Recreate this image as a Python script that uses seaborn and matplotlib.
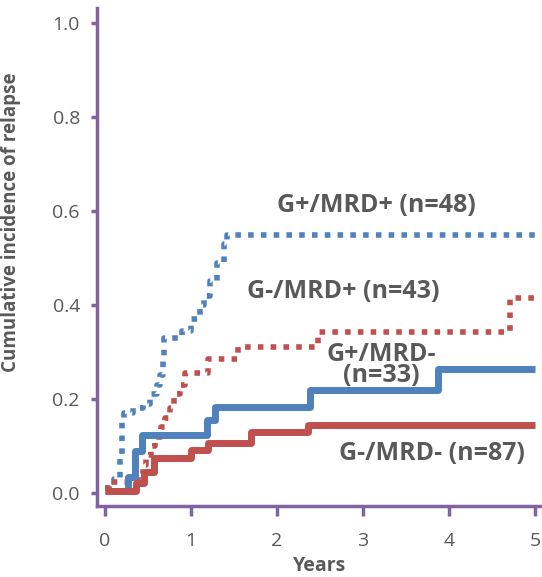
import matplotlib
matplotlib.use("Agg")
import matplotlib.pyplot as plt
import seaborn as sns
import pandas as pd

# Cumulative incidence step curves (years, incidence)
gpos_mrdpos_t = [0.0, 0.10, 0.17, 0.20, 0.22, 0.33, 0.44, 0.52, 0.60, 0.64, 0.67, 0.69,
                 0.90, 1.00, 1.10, 1.15, 1.22, 1.30, 1.38, 1.42, 5.0]
gpos_mrdpos_y = [0.01, 0.03, 0.08, 0.15, 0.17, 0.18, 0.19, 0.21, 0.23, 0.25, 0.28, 0.33,
                 0.345, 0.37, 0.40, 0.42, 0.45, 0.49, 0.53, 0.55, 0.55]

gneg_mrdpos_t = [0.0, 0.05, 0.38, 0.44, 0.48, 0.53, 0.58, 0.65, 0.70, 0.75, 0.80, 0.87,
                 0.93, 1.20, 1.55, 2.48, 4.71, 5.0]
gneg_mrdpos_y = [0.01, 0.023, 0.04, 0.06, 0.08, 0.10, 0.12, 0.14, 0.16, 0.18, 0.21, 0.23,
                 0.255, 0.285, 0.31, 0.342, 0.415, 0.415]

gpos_mrdneg_t = [0.0, 0.27, 0.35, 0.43, 1.19, 1.28, 2.38, 3.87, 5.0]
gpos_mrdneg_y = [0.005, 0.034, 0.09, 0.123, 0.155, 0.183, 0.22, 0.264, 0.264]

gneg_mrdneg_t = [0.0, 0.36, 0.45, 0.57, 1.00, 1.20, 1.70, 2.36, 5.0]
gneg_mrdneg_y = [0.005, 0.02, 0.045, 0.074, 0.091, 0.106, 0.13, 0.145, 0.145]

group_labels = ["G+/MRD+ (n=48)", "G-/MRD+ (n=43)", "G+/MRD-\n(n=33)", "G-/MRD- (n=87)"]
label_pos = [(3.15, 0.611), (2.77, 0.428), (3.21, 0.272), (3.80, 0.083)]

x_ticks = [0, 1, 2, 3, 4, 5]
y_ticks = [0.0, 0.2, 0.4, 0.6, 0.8, 1.0]

BLUE = "#4F81BD"
RED = "#C0504D"
PURPLE = "#8064A2"
TEXT = "#595959"

sns.set_style("white")
plt.rcParams["font.family"] = ["Open Sans", "DejaVu Sans"]

fig = plt.figure(figsize=(5.42, 5.77), dpi=100)
ax = fig.add_axes([0.179, 0.123, 0.821, 0.863])

series = [
    (gpos_mrdpos_t, gpos_mrdpos_y, BLUE, "dotted"),
    (gneg_mrdpos_t, gneg_mrdpos_y, RED, "dotted"),
    (gpos_mrdneg_t, gpos_mrdneg_y, BLUE, "solid"),
    (gneg_mrdneg_t, gneg_mrdneg_y, RED, "solid"),
]
for t, y, color, kind in series:
    df = pd.DataFrame({"t": t, "y": y})
    if kind == "dotted":
        sns.lineplot(data=df, x="t", y="y", ax=ax, color=color, linewidth=4.0,
                     drawstyle="steps-post", estimator=None, sort=False)
        ax.lines[-1].set_dashes((1.0, 1.3))
        ax.lines[-1].set_dash_capstyle("butt")
    else:
        sns.lineplot(data=df, x="t", y="y", ax=ax, color=color, linewidth=5.0,
                     drawstyle="steps-post", estimator=None, sort=False)
        ax.lines[-1].set_solid_capstyle("butt")

for text, (px, py) in zip(group_labels, label_pos):
    ax.text(px, py, text, ha="center", va="center", fontsize=18,
            fontweight="bold", color=TEXT, linespacing=0.78)

ax.set_xlim(-0.093, 5.08)
ax.set_ylim(-0.028, 1.032)
ax.set_xticks(x_ticks)
ax.set_xticklabels([str(v) for v in x_ticks])
ax.set_yticks(y_ticks)
ax.set_yticklabels([f"{v:.1f}" for v in y_ticks])

for side in ("top", "right"):
    ax.spines[side].set_visible(False)
for side in ("left", "bottom"):
    ax.spines[side].set_color(PURPLE)
    ax.spines[side].set_linewidth(2.5)

ax.tick_params(axis="y", direction="out", length=4.3, width=2.5, color=PURPLE,
               labelsize=14, labelcolor=TEXT, pad=8, left=True)
ax.tick_params(axis="x", direction="out", length=7, width=2.5, color=PURPLE,
               labelsize=14, labelcolor=TEXT, pad=12, bottom=True)

ax.set_xlabel("Years", fontsize=14, fontweight="bold", color=TEXT, labelpad=4)
ax.set_ylabel("Cumulative incidence of relapse", fontsize=13.5, fontweight="bold",
              color=TEXT)
ax.yaxis.set_label_coords(-0.17, 0.57)

fig.savefig("out.png", dpi=100)
